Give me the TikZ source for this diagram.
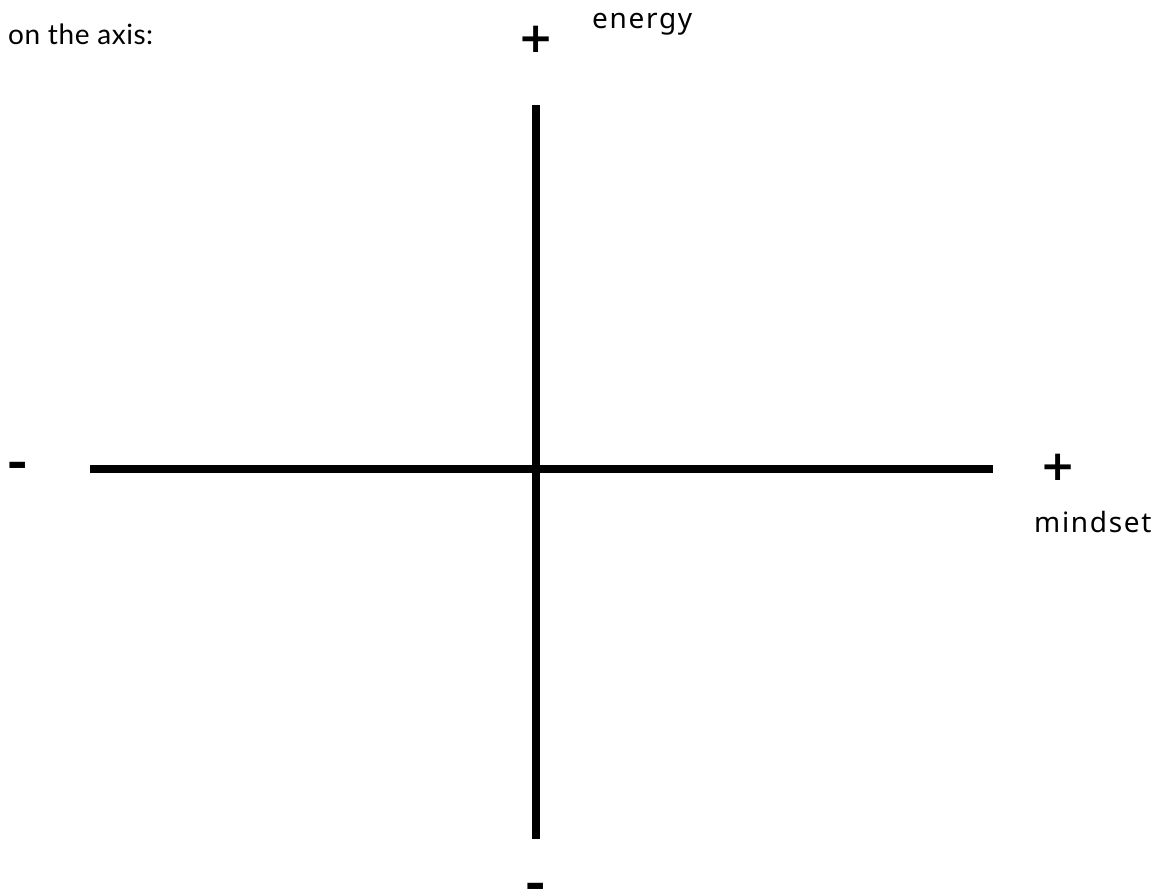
\documentclass[tikz,border=0pt]{standalone}
\usepackage{fontspec}
\setmainfont{Noto Sans}
\newfontfamily\labelfont[LetterSpace=6]{Noto Sans}
\newfontfamily\latofont[LetterSpace=2]{Lato}
\newfontfamily\minusfont{Lato}
\newfontfamily\symfont{DejaVu Sans}
\begin{document}
\begin{tikzpicture}[x=1pt,y=-1pt,
  axisline/.style={line width=8pt,black},
  label/.style={inner sep=0pt,anchor=base west,font=\labelfont\fontsize{28}{30}\selectfont},
  sign/.style={inner sep=0pt,font=\symfont\bfseries\fontsize{42}{44}\selectfont},
  minussign/.style={inner sep=0pt,anchor=base,font=\minusfont\bfseries\fontsize{60}{60}\selectfont}]
\useasboundingbox (0,0) rectangle (1168,895);
\fill[white] (0,0) rectangle (1168,895);
\coordinate (hl) at (90,469);
\coordinate (hr) at (993,469);
\coordinate (vt) at (536,105);
\coordinate (vb) at (536,839);
\draw[axisline] (hl) -- (hr);
\draw[axisline] (vt) -- (vb);
\node[label,font=\latofont\fontsize{28}{30}\selectfont] (title) at (8,44) {on the axis:};
\node[label] (energy) at (592,28) {energy};
\node[label] (mindset) at (1034,532) {mindset};
\node[sign] (ptop) at (536,39) {+};
\node[sign] (pright) at (1058.5,467) {+};
\node[minussign] (mleft) at (18,483.5) {-};
\node[minussign] (mbot) at (536,904.5) {-};
\end{tikzpicture}
\end{document}
